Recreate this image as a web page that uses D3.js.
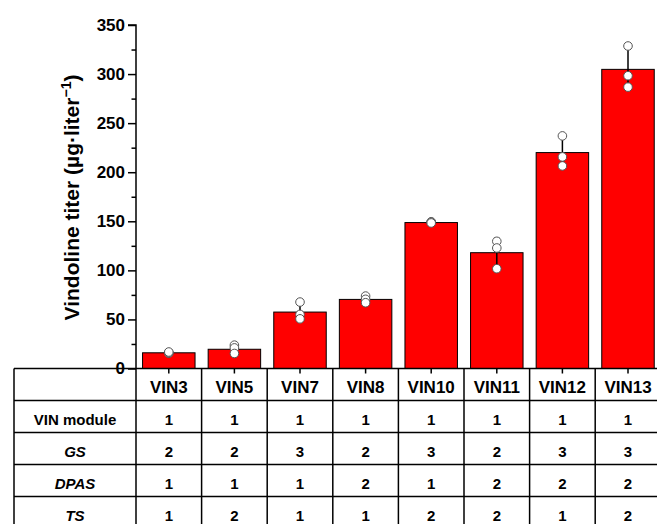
<!DOCTYPE html>
<html><head><meta charset="utf-8">
<script src="https://cdn.jsdelivr.net/npm/d3@7"></script>
<style>body{margin:0;background:#fff;} svg{display:block;font-family:"Liberation Sans",Arial,sans-serif;}</style>
</head><body>
<svg id="c" width="657" height="524"></svg>
<script>
const categories = ["VIN3","VIN5","VIN7","VIN8","VIN10","VIN11","VIN12","VIN13"];
const means = [16, 19.6, 57.5, 70.4, 148.7, 118, 220, 304.8];
const errors = [1, 4.3, 9, 3.4, 0.6, 14.5, 16, 21];
const points = [
  [15.5, 16.2, 16.8],
  [23.8, 21.0, 15.3],
  [67.7, 55.1, 50.6],
  [73.8, 70.5, 67.0],
  [149.5, 149.0, 148.3],
  [129.6, 122.8, 101.7],
  [237.0, 215.6, 206.4],
  [328.6, 298.3, 286.7]
];
const yTicks = [0,50,100,150,200,250,300,350];
const yMinorTicks = [25,75,125,175,225,275,325];
const rowLabels = ["VIN module","GS","DPAS","TS"];
const rowItalic = [false,true,true,true];
const tableValues = [
  [1,1,1,1,1,1,1,1],
  [2,2,3,2,3,2,3,3],
  [1,1,1,2,1,2,2,2],
  [1,2,1,1,2,2,1,2]
];

(function(){
const svg = d3.select("#c");
const x = d3.scaleBand().domain(categories).range([136, 660.8]).paddingInner(0.2).paddingOuter(0.1);
const y = d3.scaleLinear().domain([0,350]).range([368.5, 25]);
const step = x.step();

// bars
svg.append("g").selectAll("rect").data(categories).join("rect")
  .attr("x", d => x(d)).attr("y", (d,i) => y(means[i]))
  .attr("width", x.bandwidth()).attr("height", (d,i) => y(0) - y(means[i]))
  .attr("fill", "#ff0000").attr("stroke", "#000").attr("stroke-width", 1);

// error bars
const eg = svg.append("g").attr("stroke", "#000").attr("stroke-width", 1.5);
categories.forEach((c,i) => {
  const cx = x(c) + x.bandwidth()/2;
  eg.append("line").attr("x1", cx).attr("x2", cx)
    .attr("y1", y(means[i] - errors[i])).attr("y2", y(means[i] + errors[i]));
  [means[i]-errors[i], means[i]+errors[i]].forEach(v => {
    eg.append("line").attr("x1", cx-3).attr("x2", cx+3).attr("y1", y(v)).attr("y2", y(v));
  });
});

// points
const pg = svg.append("g");
categories.forEach((c,i) => {
  const cx = x(c) + x.bandwidth()/2;
  points[i].forEach(v => {
    pg.append("circle").attr("cx", cx).attr("cy", y(v)).attr("r", 4.3)
      .attr("fill", "#fff").attr("stroke", "#555").attr("stroke-width", 1);
  });
});

// y axis
const yAxis = d3.axisLeft(y).tickValues(yTicks).tickSize(8).tickPadding(3).tickFormat(d3.format("d"));
const ya = svg.append("g").attr("transform", "translate(136,0)").call(yAxis);
ya.select(".domain").attr("stroke-width", 1.5).attr("d", `M-8,${y(350)}H0V${y(0)}`);
ya.selectAll(".tick line").attr("stroke-width", 1.5);
ya.selectAll(".tick text").attr("font-size", 17).attr("font-weight", "bold").attr("fill", "#000")
  .attr("font-family", "Liberation Sans, Arial, sans-serif");
const yMinor = d3.axisLeft(y).tickValues(yMinorTicks).tickSize(4.5).tickFormat("");
const ym = svg.append("g").attr("transform", "translate(136,0)").call(yMinor);
ym.select(".domain").remove();
ym.selectAll(".tick line").attr("stroke-width", 1.5);

// y title
const t = svg.append("text").attr("transform", "translate(78.5,197.5) rotate(-90)")
  .attr("text-anchor", "middle").attr("font-size", 21).attr("font-weight", "bold");
t.append("tspan").text("Vindoline titer (µg·liter");
t.append("tspan").attr("font-size", 14).attr("dy", -8).text("−1");
t.append("tspan").attr("dy", 8).text(")");

// table
const tTop = 368.5, rowH = 32, left = 14, right = 660.8;
const tg = svg.append("g").attr("stroke", "#000").attr("stroke-width", 1.5);
for (let r = 0; r <= 5; r++) {
  tg.append("line").attr("x1", left).attr("x2", right).attr("y1", tTop + r*rowH).attr("y2", tTop + r*rowH);
}
tg.append("line").attr("x1", left).attr("x2", left).attr("y1", tTop).attr("y2", tTop + 5*rowH);
for (let k = 0; k <= categories.length; k++) {
  const xx = 136 + k*step;
  tg.append("line").attr("x1", xx).attr("x2", xx).attr("y1", tTop).attr("y2", tTop + 5*rowH);
}
// x ticks
const xAxis = d3.axisBottom(x).tickSize(5).tickFormat("");
const xa = svg.append("g").attr("transform", `translate(0,${tTop})`).call(xAxis);
xa.select(".domain").remove();
xa.selectAll(".tick line").attr("stroke-width", 1.5);

// header text
svg.append("g").selectAll("text").data(categories).join("text")
  .attr("x", d => x(d) + x.bandwidth()/2).attr("y", tTop + 24.5)
  .attr("text-anchor", "middle").attr("font-size", 17).attr("font-weight", "bold").text(d => d);

rowLabels.forEach((lab, r) => {
  const by = tTop + (r+1)*rowH + 24;
  svg.append("text").attr("x", 75).attr("y", by).attr("text-anchor", "middle")
    .attr("font-size", 15).attr("font-weight", "bold")
    .attr("font-style", rowItalic[r] ? "italic" : "normal").text(lab);
  svg.append("g").selectAll("text").data(categories).join("text")
    .attr("x", d => x(d) + x.bandwidth()/2).attr("y", by)
    .attr("text-anchor", "middle").attr("font-size", 15).attr("font-weight", "bold")
    .text((d,i) => tableValues[r][i]);
});
})();
</script>
</body></html>
